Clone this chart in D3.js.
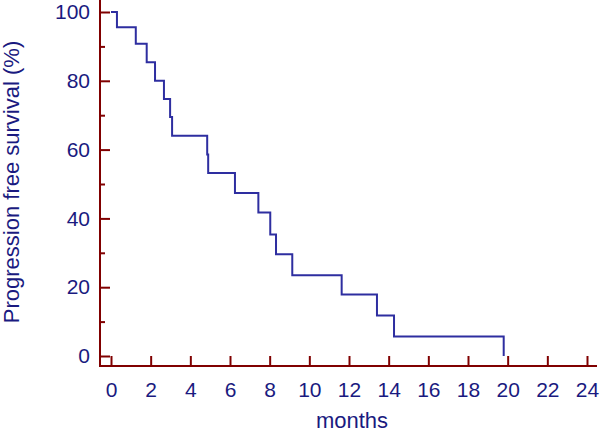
<!DOCTYPE html>
<html>
<head>
<meta charset="utf-8">
<script src="https://cdn.jsdelivr.net/npm/d3@7"></script>
<style>
  body { margin: 0; background: #fff; }
  svg text { font-family: "Liberation Sans", Arial, sans-serif; fill: #1a1a80; }
</style>
</head>
<body>
<svg id="chart" width="600" height="434"></svg>
<script>
// Kaplan-Meier step points
var months = [0, 0.3, 1.25, 1.8, 2.22, 2.67, 2.98, 3.08, 4.85, 4.9, 6.25, 7.43, 8.03, 8.32, 9.14, 11.63, 13.41, 14.27, 19.8];
var survival = [100, 95.6, 90.8, 85.4, 80, 74.7, 69.5, 64.0, 58.6, 53.2, 47.4, 41.7, 35.3, 29.6, 23.5, 17.9, 11.8, 5.7, 0];

var xTicks = [0, 2, 4, 6, 8, 10, 12, 14, 16, 18, 20, 22, 24];
var yTicks = [0, 20, 40, 60, 80, 100];
var yMinor = [10, 30, 50, 70, 90];

var axisColor = "#800000",
    lineColor = "#2e2ea0";

var svg = d3.select("#chart");

// axes sit a bit outside the data area (offset frame)
var axisX = 100, axisY = 366;

var x = d3.scaleLinear().domain([0, 24]).range([111, 587]);
var y = d3.scaleLinear().domain([0, 100]).range([356, 12]);

// y axis
var gy = svg.append("g")
    .attr("transform", "translate(" + axisX + ",0)")
    .call(d3.axisLeft(y).tickValues(yTicks).tickSizeInner(-10).tickSizeOuter(0).tickPadding(10));
gy.select(".domain").remove();
gy.selectAll("line").attr("stroke", axisColor).attr("stroke-width", 2);
gy.selectAll("text").style("font-size", "21px").attr("fill", "#1a1a80");

var gym = svg.append("g")
    .attr("transform", "translate(" + axisX + ",0)")
    .call(d3.axisLeft(y).tickValues(yMinor).tickSizeInner(-5).tickSizeOuter(0).tickFormat(""));
gym.select(".domain").remove();
gym.selectAll("line").attr("stroke", axisColor).attr("stroke-width", 2);

// x axis
var gx = svg.append("g")
    .attr("transform", "translate(0," + axisY + ")")
    .call(d3.axisBottom(x).tickValues(xTicks).tickSizeInner(-10).tickSizeOuter(0).tickPadding(16));
gx.select(".domain").remove();
gx.selectAll("line").attr("stroke", axisColor).attr("stroke-width", 2);
gx.selectAll("text").style("font-size", "21px").attr("fill", "#1a1a80");

// axis lines
svg.append("line")
    .attr("x1", axisX).attr("x2", axisX)
    .attr("y1", 0).attr("y2", axisY + 1)
    .attr("stroke", axisColor).attr("stroke-width", 2);
svg.append("line")
    .attr("x1", axisX - 1).attr("x2", 597)
    .attr("y1", axisY).attr("y2", axisY)
    .attr("stroke", axisColor).attr("stroke-width", 2);

// survival curve
var pts = months.map(function(m, i) { return [m, survival[i]]; });
var line = d3.line()
    .x(function(d) { return x(d[0]); })
    .y(function(d) { return y(d[1]); })
    .curve(d3.curveStepAfter);

svg.append("path")
    .datum(pts)
    .attr("d", line)
    .attr("fill", "none")
    .attr("stroke", lineColor)
    .attr("stroke-width", 2);

// titles
svg.append("text")
    .attr("x", 352).attr("y", 428)
    .attr("text-anchor", "middle")
    .style("font-size", "22px")
    .text("months");

svg.append("text")
    .attr("transform", "translate(19,182) rotate(-90)")
    .attr("text-anchor", "middle")
    .style("font-size", "22px")
    .text("Progression free survival (%)");
</script>
</body>
</html>
